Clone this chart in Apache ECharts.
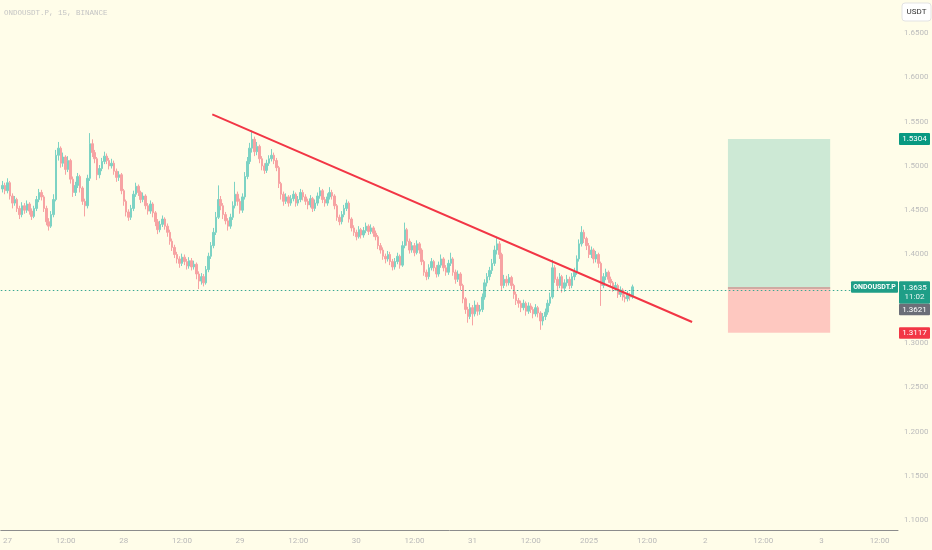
<!DOCTYPE html>
<html><head><meta charset="utf-8">
<script src="https://cdn.jsdelivr.net/npm/echarts@6/dist/echarts.min.js"></script>
<style>html,body{margin:0;padding:0;background:#fffde9}#c{width:932px;height:550px}</style>
</head><body><div id="c"></div>
<script>
// 30-minute candles, x measured in hours since 27 Dec 00:00
const startHour = -1;
const stepHours = 0.5;
const firstOpen = 1.474;
const closes = [
1.478,1.472,1.481,1.466,1.458,1.462,1.452,1.445,1.455,1.450,
1.457,1.449,1.443,1.452,1.462,1.470,1.465,1.452,1.437,1.432,
1.445,1.462,1.512,1.520,1.503,1.510,1.496,1.506,1.485,1.470,
1.478,1.488,1.475,1.460,1.455,1.486,1.525,1.515,1.508,1.490,
1.497,1.505,1.511,1.506,1.500,1.503,1.494,1.487,1.490,1.472,
1.460,1.448,1.442,1.452,1.468,1.477,1.470,1.462,1.466,1.455,
1.449,1.457,1.447,1.437,1.428,1.434,1.440,1.432,1.425,1.415,
1.408,1.400,1.395,1.390,1.397,1.392,1.387,1.393,1.386,1.389,
1.378,1.370,1.375,1.368,1.383,1.398,1.410,1.425,1.442,1.462,
1.455,1.445,1.438,1.432,1.442,1.455,1.468,1.460,1.450,1.465,
1.488,1.505,1.520,1.530,1.516,1.522,1.508,1.500,1.495,1.503,
1.508,1.512,1.506,1.498,1.480,1.468,1.460,1.465,1.458,1.463,
1.468,1.458,1.462,1.470,1.465,1.460,1.456,1.463,1.452,1.458,
1.466,1.472,1.462,1.458,1.465,1.470,1.466,1.455,1.442,1.437,
1.445,1.452,1.458,1.440,1.430,1.425,1.420,1.428,1.422,1.427,
1.432,1.426,1.430,1.424,1.420,1.410,1.405,1.398,1.395,1.400,
1.392,1.386,1.392,1.398,1.388,1.410,1.428,1.415,1.405,1.410,
1.402,1.412,1.405,1.392,1.380,1.375,1.385,1.392,1.385,1.378,
1.388,1.395,1.385,1.380,1.390,1.395,1.380,1.372,1.378,1.365,
1.350,1.338,1.330,1.340,1.333,1.343,1.336,1.338,1.352,1.368,
1.375,1.382,1.390,1.405,1.412,1.400,1.365,1.372,1.368,1.374,
1.365,1.355,1.348,1.345,1.340,1.345,1.336,1.342,1.338,1.333,
1.340,1.334,1.325,1.330,1.335,1.345,1.352,1.385,1.372,1.365,
1.375,1.362,1.368,1.372,1.365,1.375,1.380,1.395,1.412,1.425,
1.418,1.410,1.400,1.405,1.395,1.400,1.390,1.365,1.375,1.380,
1.372,1.368,1.362,1.365,1.355,1.360,1.352,1.350,1.355,1.352,
1.3635
];
const highs = [
1.483,1.481,1.486,1.483,1.469,1.466,1.464,1.455,1.459,1.458,
1.461,1.459,1.452,1.455,1.466,1.474,1.473,1.467,1.455,1.441,
1.449,1.468,1.518,1.527,1.522,1.515,1.512,1.511,1.508,1.488,
1.482,1.492,1.490,1.477,1.463,1.490,1.537,1.530,1.518,1.510,
1.501,1.509,1.516,1.514,1.509,1.508,1.506,1.497,1.494,1.492,
1.474,1.462,1.451,1.456,1.472,1.481,1.479,1.472,1.470,1.468,
1.458,1.461,1.459,1.449,1.440,1.438,1.444,1.442,1.435,1.428,
1.418,1.411,1.403,1.398,1.401,1.400,1.395,1.397,1.396,1.393,
1.391,1.381,1.379,1.378,1.387,1.402,1.414,1.430,1.448,1.478,
1.466,1.458,1.448,1.441,1.446,1.460,1.482,1.471,1.463,1.469,
1.493,1.510,1.526,1.540,1.533,1.527,1.524,1.511,1.503,1.507,
1.512,1.519,1.515,1.509,1.500,1.482,1.471,1.469,1.467,1.467,
1.472,1.470,1.466,1.474,1.473,1.468,1.463,1.467,1.465,1.462,
1.470,1.476,1.474,1.465,1.469,1.476,1.473,1.468,1.457,1.445,
1.449,1.456,1.462,1.460,1.442,1.433,1.428,1.432,1.430,1.431,
1.436,1.434,1.434,1.432,1.427,1.422,1.413,1.408,1.401,1.404,
1.403,1.395,1.396,1.402,1.400,1.415,1.436,1.430,1.418,1.414,
1.413,1.416,1.414,1.407,1.394,1.383,1.389,1.396,1.394,1.388,
1.392,1.400,1.397,1.388,1.394,1.402,1.397,1.383,1.382,1.380,
1.367,1.352,1.341,1.345,1.343,1.348,1.346,1.343,1.356,1.372,
1.379,1.386,1.395,1.410,1.420,1.415,1.402,1.377,1.376,1.378,
1.376,1.367,1.358,1.351,1.348,1.349,1.347,1.346,1.345,1.341,
1.344,1.342,1.336,1.334,1.339,1.349,1.357,1.394,1.388,1.375,
1.379,1.377,1.372,1.377,1.375,1.379,1.385,1.399,1.417,1.432,
1.428,1.420,1.413,1.409,1.407,1.404,1.402,1.392,1.379,1.384,
1.382,1.375,1.370,1.369,1.367,1.364,1.362,1.355,1.359,1.357,
1.366
];
const lows = [
1.470,1.468,1.469,1.462,1.452,1.455,1.448,1.440,1.442,1.446,
1.447,1.445,1.439,1.441,1.449,1.459,1.461,1.448,1.433,1.427,
1.430,1.442,1.460,1.506,1.498,1.499,1.490,1.493,1.480,1.465,
1.466,1.475,1.470,1.456,1.443,1.452,1.483,1.510,1.503,1.484,
1.486,1.494,1.502,1.502,1.496,1.497,1.490,1.482,1.483,1.468,
1.455,1.443,1.438,1.439,1.449,1.465,1.466,1.458,1.459,1.451,
1.445,1.446,1.442,1.432,1.423,1.425,1.431,1.428,1.420,1.411,
1.404,1.396,1.390,1.385,1.387,1.388,1.383,1.384,1.382,1.383,
1.372,1.361,1.366,1.364,1.366,1.380,1.395,1.407,1.422,1.440,
1.450,1.440,1.434,1.427,1.429,1.439,1.452,1.455,1.446,1.447,
1.462,1.485,1.502,1.515,1.511,1.512,1.503,1.495,1.491,1.492,
1.500,1.505,1.502,1.494,1.475,1.462,1.455,1.457,1.454,1.455,
1.460,1.454,1.455,1.459,1.461,1.456,1.451,1.453,1.448,1.449,
1.455,1.463,1.458,1.454,1.455,1.462,1.462,1.451,1.438,1.433,
1.434,1.442,1.449,1.436,1.426,1.421,1.416,1.418,1.418,1.419,
1.424,1.422,1.423,1.420,1.416,1.406,1.401,1.394,1.390,1.392,
1.388,1.382,1.383,1.389,1.384,1.386,1.407,1.410,1.401,1.402,
1.398,1.400,1.401,1.388,1.376,1.371,1.372,1.382,1.381,1.374,
1.375,1.385,1.381,1.376,1.377,1.387,1.376,1.367,1.369,1.360,
1.345,1.333,1.323,1.327,1.320,1.330,1.331,1.332,1.335,1.349,
1.364,1.371,1.378,1.387,1.400,1.395,1.360,1.362,1.364,1.365,
1.361,1.350,1.343,1.340,1.335,1.337,1.331,1.333,1.334,1.328,
1.330,1.329,1.315,1.320,1.326,1.332,1.342,1.350,1.368,1.360,
1.362,1.357,1.358,1.364,1.361,1.362,1.371,1.377,1.392,1.409,
1.413,1.405,1.396,1.396,1.390,1.391,1.385,1.342,1.362,1.371,
1.368,1.364,1.358,1.359,1.351,1.352,1.348,1.346,1.347,1.348,
1.350
];
const xTickHours = [0,12,24,36,48,60,72,84,96,108,120,132,144,156,168,180];
const xTickLabels = ['27','12:00','28','12:00','29','12:00','30','12:00','31','12:00','2025','12:00','2','12:00','3','12:00'];
const yTickValues = [1.10,1.15,1.20,1.25,1.30,1.35,1.40,1.45,1.50,1.55,1.60,1.65];
const xRange = [-1.38, 183.8];
const yRange = [1.0891, 1.6872];
const trendLine = [[42.27,1.5582],[141.3,1.3238]];
const positionHours = [148.7, 169.8];
const entryPrice = 1.3621;
const targetPrice = 1.5304;
const stopPrice = 1.3117;
const lastPrice = 1.3635;
const countdown = '11:02';
const symbolName = 'ONDOUSDT.P';
const titleText = 'ONDOUSDT.P, 15, BINANCE';
const currency = 'USDT';

const candles = closes.map((c, i) => [startHour + i * stepHours, i ? closes[i - 1] : firstOpen, c, lows[i], highs[i]]);

const chart = echarts.init(document.getElementById('c'), null, {renderer: 'canvas'});
const FONT = 'Roboto, "Noto Sans", sans-serif';
chart.setOption({
  animation: false,
  backgroundColor: '#fffde9',
  grid: {left: 0, right: 34, top: 0, bottom: 20, containLabel: false},
  xAxis: {
    type: 'value', min: xRange[0], max: xRange[1],
    axisLine: {show: true, lineStyle: {color: '#8c8c8c', width: 1}},
    axisTick: {show: false}, splitLine: {show: false},
    axisLabel: {
      customValues: xTickHours, color: '#b9b9b9', fontSize: 8, fontFamily: FONT, margin: 7,
      formatter: v => { const k = xTickHours.indexOf(Math.round(v)); return k >= 0 ? xTickLabels[k] : ''; }
    }
  },
  yAxis: {
    type: 'value', position: 'right', min: yRange[0], max: yRange[1],
    axisLine: {show: false}, axisTick: {show: false}, splitLine: {show: false},
    axisLabel: {customValues: yTickValues, color: '#bdbdbd', fontSize: 8, fontFamily: FONT, margin: 6,
      formatter: v => v.toFixed(4)}
  },
  series: [
    {
      type: 'candlestick', data: candles, encode: {x: 0, y: [1, 2, 3, 4]},
      barWidth: 2,
      itemStyle: {color: '#7dd3c4', color0: '#f7a3a3', borderColor: '#7dd3c4', borderColor0: '#f7a3a3', borderWidth: 1},
      markArea: {
        silent: true,
        data: [
          [{coord: [positionHours[0], entryPrice], itemStyle: {color: '#cde9d5'}}, {coord: [positionHours[1], targetPrice]}],
          [{coord: [positionHours[0], stopPrice], itemStyle: {color: '#fec8c0'}}, {coord: [positionHours[1], entryPrice]}]
        ]
      },
      markLine: {
        silent: true, symbol: 'none', label: {show: false},
        lineStyle: {type: [1.5, 2.5], color: '#3aa892', width: 1},
        data: [{yAxis: lastPrice}]
      }
    },
    {
      type: 'line', data: [[positionHours[0], entryPrice], [positionHours[1], entryPrice]],
      symbol: 'none', lineStyle: {color: '#cfaaa2', width: 2}, silent: true, z: 3
    },
    {
      type: 'line', data: trendLine, symbol: 'none', silent: true,
      lineStyle: {color: '#f23645', width: 2}, z: 4
    }
  ]
});

const yP = v => chart.convertToPixel({yAxisIndex: 0}, v);
const axisX = chart.convertToPixel({xAxisIndex: 0}, xRange[1]);
const bx = axisX + 1, bw = 932 - bx - 2;
function box(x, y, w, h, fill, text, extra) {
  const els = [{type: 'rect', z: 100, shape: {x: x, y: y, width: w, height: h, r: 1}, style: {fill: fill}}];
  if (text) els.push({type: 'text', z: 101, x: x + w / 2, y: y + h / 2 + 0.5,
    style: Object.assign({text: text, fill: '#ffffff', font: '8px ' + FONT, textAlign: 'center', textVerticalAlign: 'middle', align: 'center', verticalAlign: 'middle'}, extra || {})});
  return els;
}
const yl = yP(lastPrice);
const gfx = [].concat(
  [{type: 'text', z: 100, x: 4, y: 13, style: {text: titleText, fill: '#c4c4c4', font: '7.5px "Liberation Mono", "DejaVu Sans Mono", monospace', textVerticalAlign: 'middle', verticalAlign: 'middle'}}],
  [{type: 'rect', z: 100, shape: {x: bx + 3, y: 3, width: 29, height: 18, r: 3}, style: {fill: '#ffffff', stroke: '#e3e3e3', lineWidth: 1}},
   {type: 'text', z: 101, x: bx + 17.5, y: 12, style: {text: currency, fill: '#333333', font: '8px ' + FONT, textAlign: 'center', textVerticalAlign: 'middle', align: 'center', verticalAlign: 'middle'}}],
  box(bx, yP(targetPrice) - 6, bw, 12, '#089981', targetPrice.toFixed(4)),
  box(bx - 48, yl - 5.5, 47, 11.5, '#1f9e87', symbolName, {font: 'bold 7px ' + FONT}),
  box(bx, yl - 5.5, bw, 22.5, '#1f9e87', null),
  [{type: 'text', z: 101, x: bx + bw / 2, y: yl + 0.8, style: {text: lastPrice.toFixed(4), fill: '#fff', font: '8px ' + FONT, textAlign: 'center', textVerticalAlign: 'middle', align: 'center', verticalAlign: 'middle'}},
   {type: 'text', z: 101, x: bx + bw / 2, y: yl + 10.5, style: {text: countdown, fill: '#e8f6f2', font: '8px ' + FONT, textAlign: 'center', textVerticalAlign: 'middle', align: 'center', verticalAlign: 'middle'}}],
  box(bx, yl + 17, bw, 11.5, '#6b6e78', entryPrice.toFixed(4)),
  box(bx, yP(stopPrice) - 5.5, bw, 11.5, '#f23645', stopPrice.toFixed(4))
);
chart.setOption({graphic: gfx});
</script>
</body></html>
